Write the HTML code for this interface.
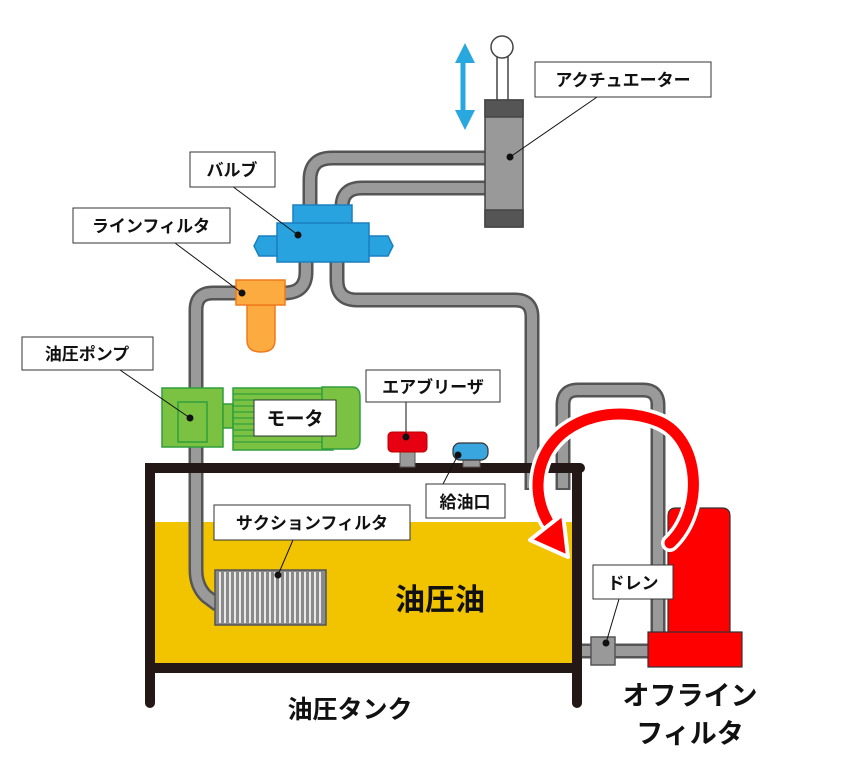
<!DOCTYPE html>
<html><head><meta charset="utf-8"><style>
html,body{margin:0;padding:0;background:#fff;}
svg text{font-family:"Liberation Sans","Noto Sans CJK JP",sans-serif;font-weight:bold;fill:#111;}
</style></head><body>
<svg width="860" height="760" viewBox="0 0 860 760" xmlns="http://www.w3.org/2000/svg">
<rect x="155" y="522" width="422" height="143" fill="#f2c400"/>
<g fill="none" stroke-linejoin="round">
<g stroke="#555" stroke-width="15">
<path d="M218 605 L206 596 Q196 586 196 570 L196 310 Q196 293 213 293 L240 293"/>
<path d="M284 293 Q306 293 306 272 L306 260"/>
<path d="M310 207 L310 180 Q310 158 332 158 L486 158"/>
<path d="M342 207 Q342 188 362 188 L486 188"/>
<path d="M337 260 L337 280 Q337 300 357 300 L515 300 Q532 300 532 317 L532 490"/>
<path d="M563 490 L563 405 Q563 390 578 390 L643 390 Q658 390 658 405 L658 634"/>
<path d="M578 651 L650 651"/>
</g>
<g stroke="#9a9a9a" stroke-width="10">
<path d="M218 605 L206 596 Q196 586 196 570 L196 310 Q196 293 213 293 L240 293"/>
<path d="M284 293 Q306 293 306 272 L306 260"/>
<path d="M310 207 L310 180 Q310 158 332 158 L486 158"/>
<path d="M342 207 Q342 188 362 188 L486 188"/>
<path d="M337 260 L337 280 Q337 300 357 300 L515 300 Q532 300 532 317 L532 488"/>
<path d="M563 488 L563 405 Q563 390 578 390 L643 390 Q658 390 658 405 L658 634"/>
<path d="M578 651 L650 651"/>
</g>
</g>
<g stroke="#231815" stroke-width="10" stroke-linecap="round" fill="none">
<path d="M150 703 L150 468 L580 468"/>
<path d="M577 468 L577 703"/>
<path d="M150 668 L577 668"/>
</g>
<rect x="215" y="570" width="111" height="55" fill="#8a8a8a" stroke="#555" stroke-width="1.5"/>
<g stroke="#fff" stroke-width="1.6">
<path d="M220 572V623M225 572V623M230 572V623M235 572V623M240 572V623M245 572V623M250 572V623M255 572V623M260 572V623M265 572V623M270 572V623M275 572V623M280 572V623M285 572V623M290 572V623M295 572V623M300 572V623M305 572V623M310 572V623M315 572V623M320 572V623"/>
</g>
<rect x="497" y="52" width="11" height="50" fill="#fff" stroke="#444" stroke-width="1.5"/>
<circle cx="502" cy="47" r="11" fill="#fff" stroke="#444" stroke-width="1.5"/>
<rect x="485" y="100" width="38" height="127" fill="#999" stroke="#444" stroke-width="1.5"/>
<rect x="485" y="100" width="38" height="17" fill="#555" stroke="#444" stroke-width="1.5"/>
<rect x="485" y="210" width="38" height="17" fill="#555" stroke="#444" stroke-width="1.5"/>
<path d="M463 60 V114" stroke="#29a8e0" stroke-width="5"/>
<path d="M455 63 L465 43 L475 63 Z M455 110 L465 130 L475 110 Z" fill="#29a8e0"/>
<g fill="#29a3df" stroke="#1a7fc0" stroke-width="1.5">
<rect x="293" y="205" width="59" height="19"/>
<path d="M277 236 L259 236 L254 246 L259 256 L277 256 Z"/>
<path d="M369 236 L388 236 L393 246 L388 256 L369 256 Z"/>
<rect x="277" y="223" width="92" height="39"/>
</g>
<path d="M247 305 L247 340 Q247 352 261 352 Q275 352 275 340 L275 305 Z" fill="#fbab40" stroke="#f07a1d" stroke-width="1.5"/>
<rect x="236" y="280" width="49" height="25" fill="#fbab40" stroke="#f07a1d" stroke-width="1.5"/>
<g fill="#7cc242" stroke="#2f9e3d" stroke-width="1.5">
<rect x="162" y="388" width="61" height="59"/>
<rect x="178" y="402" width="29" height="40"/>
<rect x="223" y="404" width="10" height="24"/>
<rect x="233" y="388" width="100" height="62"/>
<path d="M322 387 L352 387 Q360 387 360 397 L360 440 Q360 449 352 449 L322 449 Z"/>
</g>
<g stroke="#2f9e3d" stroke-width="1.3"><path d="M233 394H322M233 400H322M233 406H322M233 412H322M233 418H322M233 424H322M233 430H322M233 436H322M233 442H322"/></g>
<rect x="400" y="450" width="15" height="17" fill="#9a9a9a" stroke="#555"/>
<rect x="388" y="432" width="39" height="20" rx="4" fill="#e60012" stroke="#b00" stroke-width="1"/>
<rect x="463" y="457" width="17" height="10" fill="#9a9a9a" stroke="#555"/>
<rect x="453" y="443" width="35" height="17" rx="7" fill="#3aa6df" stroke="#333" stroke-width="1.2"/>
<path d="M668 633 L668 516 Q668 508 676 508 L722 508 Q730 508 730 516 L730 633 Z" fill="#f00" stroke="#333" stroke-width="1.2"/>
<rect x="648" y="632" width="94" height="35" fill="#f00" stroke="#333" stroke-width="1.2"/>
<rect x="591" y="637" width="24" height="28" fill="#999" stroke="#555" stroke-width="1.5"/>
<!-- red arrow -->
<g fill="none" stroke-linecap="round">
<path d="M670 543 C705 510 700 440 660 422 C620 405 565 415 545 455 C533 480 538 505 548 522" stroke="#fff" stroke-width="18"/>
<path d="M670 543 C705 510 700 440 660 422 C620 405 565 415 545 455 C533 480 538 505 548 522" stroke="#f00" stroke-width="11"/>
</g>
<path d="M530 540 L563 514 L568 557 Z" fill="#f00" stroke="#fff" stroke-width="4" stroke-linejoin="round"/>
<g stroke="#111" stroke-width="1" fill="#111">
<path d="M600 95 L510 157" fill="none"/><circle cx="510" cy="157" r="3"/>
<path d="M232 186 L298 235" fill="none"/><circle cx="298" cy="235" r="3"/>
<path d="M175 243 L242 293" fill="none"/><circle cx="242" cy="293" r="3"/>
<path d="M120 370 L190 418" fill="none"/><circle cx="190" cy="418" r="3"/>
<path d="M406 402 L406 437" fill="none"/><circle cx="406" cy="437" r="3"/>
<path d="M443 484 L458 455" fill="none"/><circle cx="458" cy="455" r="3"/>
<path d="M293 540 L278 575" fill="none"/><circle cx="278" cy="575" r="3"/>
<path d="M619 599 L606 643" fill="none"/><circle cx="606" cy="643" r="3"/>
</g>
<g fill="#fff" stroke="#333" stroke-width="1">
<rect x="535" y="62" width="176" height="35"/>
<rect x="190" y="152" width="85" height="35"/>
<rect x="73" y="208" width="157" height="35"/>
<rect x="22" y="337" width="131" height="33"/>
<rect x="254" y="400" width="82" height="36"/>
<rect x="366" y="370" width="134" height="32"/>
<rect x="426" y="484" width="79" height="34"/>
<rect x="214" y="505" width="196" height="35"/>
<rect x="593" y="565" width="80" height="34"/>
</g>
<g font-size="17" text-anchor="middle">
<text x="623" y="86">アクチュエーター</text>
<text x="232" y="176">バルブ</text>
<text x="151" y="232">ラインフィルタ</text>
<text x="87" y="360">油圧ポンプ</text>
<text x="295" y="425" font-size="19">モータ</text>
<text x="433" y="393">エアブリーザ</text>
<text x="465" y="508">給油口</text>
<text x="312" y="529">サクションフィルタ</text>
<text x="633" y="589">ドレン</text>
<text x="440" y="610" font-size="30">油圧油</text>
<text x="350" y="718" font-size="25">油圧タンク</text>
<text x="690" y="705" font-size="27">オフライン</text>
<text x="690" y="743" font-size="27">フィルタ</text>
</g>
</svg>
</body></html>
